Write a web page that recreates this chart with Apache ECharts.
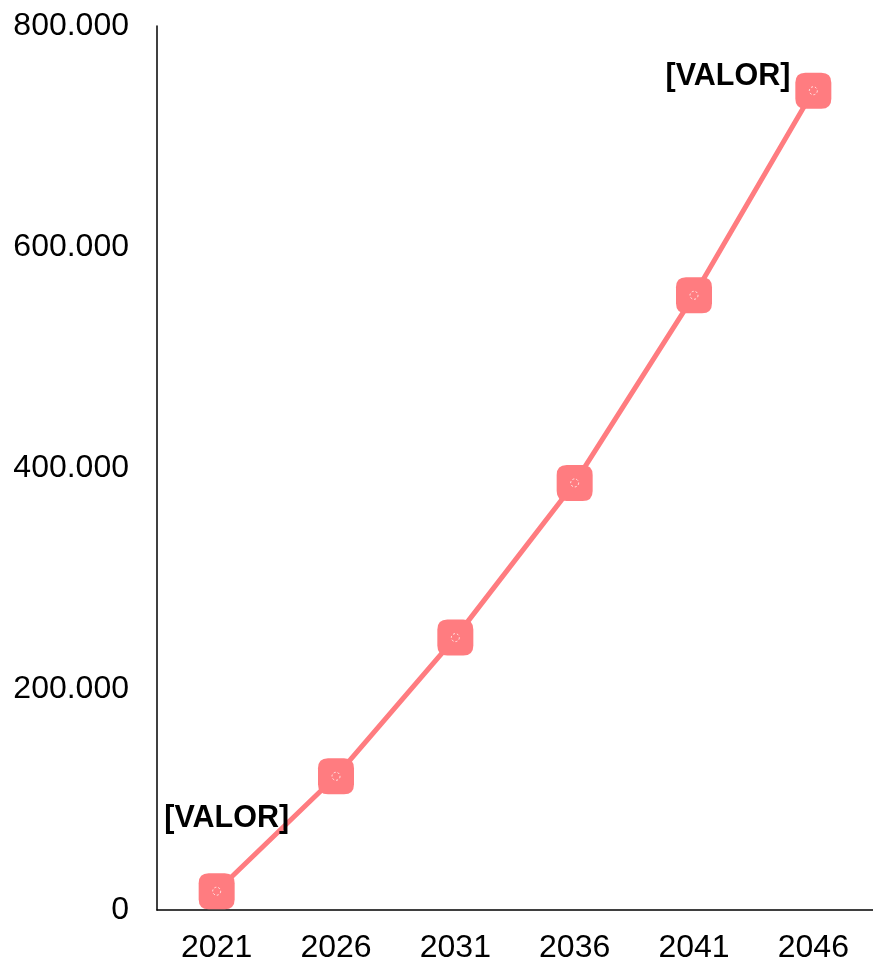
<!DOCTYPE html>
<html>
<head>
<meta charset="utf-8">
<script src="https://cdn.jsdelivr.net/npm/echarts@6/dist/echarts.min.js"></script>
<style>
  html, body { margin: 0; padding: 0; background: #fff; }
  #chart { width: 873px; height: 964px; }
</style>
</head>
<body>
<div id="chart"></div>
<script>
// Projected values per census year
const years = ['2021', '2026', '2031', '2036', '2041', '2046'];
const values = [17000, 121000, 246500, 386500, 556300, 741400];
const yTicks = [0, 200000, 400000, 600000, 800000];
const labelText = '[VALOR]';
const labelledIdx = [0, 5];

const lineColor = '#FF7C80';
const fontFamily = '"Liberation Sans", Arial, sans-serif';

function fmtThousands(v) {
  return String(v).replace(/\B(?=(\d{3})+(?!\d))/g, '.');
}

const chart = echarts.init(document.getElementById('chart'), null, { renderer: 'canvas' });

const lineData = values.map((v, i) => {
  const item = { value: v };
  if (labelledIdx.includes(i)) {
    item.label = {
      show: true,
      formatter: labelText,
      position: i === 0 ? 'top' : 'left',
      offset: i === 0 ? [10, -34] : [0, -14],
      fontFamily: fontFamily,
      fontWeight: 'bold',
      fontSize: 30.5,
      color: '#000'
    };
  }
  return item;
});

chart.setOption({
  animation: false,
  backgroundColor: '#fff',
  grid: { left: 157, top: 26, width: 719, height: 886, containLabel: false },
  xAxis: {
    type: 'category',
    data: years,
    boundaryGap: true,
    axisLine: { lineStyle: { color: '#000', width: 1.5 } },
    axisTick: { show: false },
    axisLabel: { color: '#000', fontSize: 32, fontFamily: fontFamily, margin: 22 },
    splitLine: { show: false }
  },
  yAxis: {
    type: 'value',
    min: yTicks[0],
    max: yTicks[yTicks.length - 1],
    interval: yTicks[1] - yTicks[0],
    axisLine: { show: true, lineStyle: { color: '#000', width: 1.5 } },
    axisTick: { show: false },
    splitLine: { show: false },
    axisLabel: {
      color: '#000', fontSize: 32, fontFamily: fontFamily, margin: 28,
      formatter: v => fmtThousands(v)
    }
  },
  series: [
    {
      type: 'line',
      data: lineData,
      symbol: 'path://M10,0 H26 Q36,0 36,10 V26 Q36,36 26,36 H10 Q0,36 0,26 V10 Q0,0 10,0 Z',
      symbolSize: 36,
      showAllSymbol: true,
      itemStyle: { color: lineColor, borderWidth: 0 },
      lineStyle: { color: lineColor, width: 5 },
      label: { show: false },
      z: 2
    },
    {
      // small dashed rings at the marker centres
      type: 'scatter',
      data: values,
      symbol: 'circle',
      symbolSize: 8,
      itemStyle: { color: 'transparent', borderColor: '#fff', borderWidth: 1, borderType: [2, 2] },
      silent: true,
      z: 3
    }
  ]
});
</script>
</body>
</html>
